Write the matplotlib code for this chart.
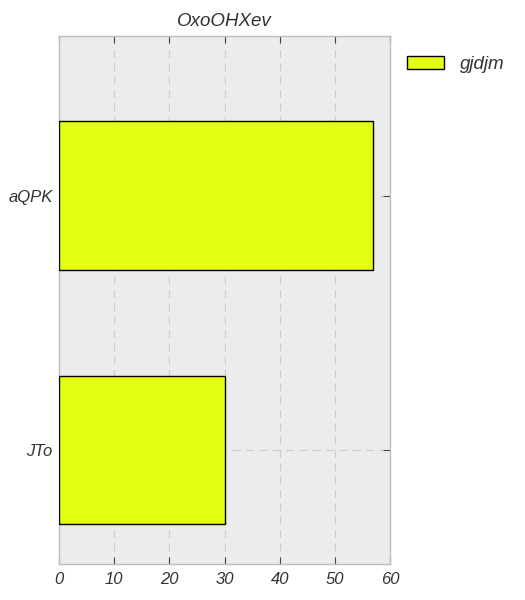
import matplotlib
matplotlib.use("Agg")
import matplotlib.pyplot as plt

# data
categories = ["JTo", "aQPK"]
values = [30, 57]
series_name = "gjdjm"
title = "OxoOHXev"

plt.rcParams["font.family"] = ["Liberation Sans", "DejaVu Sans"]
plt.rcParams["font.style"] = "italic"

fig = plt.figure(figsize=(5.25, 6), dpi=100)
ax = fig.add_axes([0.1124, 0.06, 0.6305, 0.88])
ax.set_facecolor("#ececec")

ax.barh(range(len(categories)), values, height=0.585, color="#e3ff12",
		edgecolor="black", linewidth=1.0, label=series_name, zorder=3)

ax.set_xlim(0, 60)
ax.set_ylim(-0.448, 1.627)
ax.set_xticks(range(0, 61, 10))
ax.set_yticks(range(len(categories)))
ax.set_yticklabels(categories)

ax.grid(True, color="#cccccc", linestyle=(0, (7, 5)), linewidth=0.8, zorder=0)
ax.tick_params(axis="x", direction="in", top=True, bottom=True, length=5,
		color="#444444", labelsize=12, labelcolor="#333333", pad=6)
ax.tick_params(axis="y", direction="in", left=False, right=True, length=5,
		color="#444444", labelsize=12, labelcolor="#333333", pad=4.5)

for spine in ax.spines.values():
	spine.set_color("#bdbdbd")
	spine.set_linewidth(1.0)

ax.set_title(title, fontsize=13.5, color="#333333", pad=7)

ax.legend(loc="upper left", bbox_to_anchor=(1.0, 0.995), frameon=False,
		fontsize=13.5, handlelength=2.0, handleheight=0.75, handletextpad=0.85,
		labelcolor="#333333")

fig.savefig("out.png", dpi=100)
